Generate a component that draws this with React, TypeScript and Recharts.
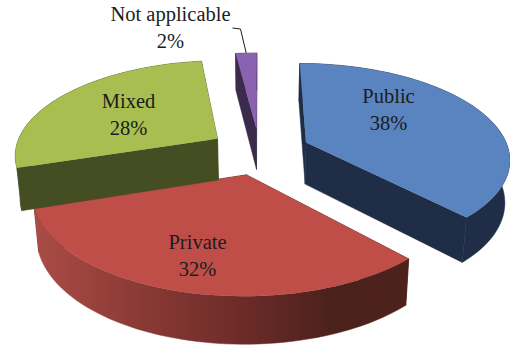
import React from 'react';
import { PieChart, Pie, Cell } from 'recharts';

const categories = ['Public', 'Private', 'Mixed', 'Not applicable'];
const shares = [38, 32, 28, 2];

const topColors = ['#5984C0', '#BF4E49', '#A9BE51', '#8A62B0'];
const sideColors = ['#1F2D47', 'url(#privateWall)', '#454D22', '#3A2A4C'];

// label centres relative to the pie centre, px
const labelOffsets = [
    [129, -42],
    [-62, 104],
    [-131, -37],
    [-89, -124],
];

const chartData = categories.map((name, i) => ({ name, value: shares[i] }));

const RAD = Math.PI / 180;
const TILT = 0.463; // vertical squash of the disc
const PERSPECTIVE = 0.158;
const EXPLODE = 0.25;
const DEPTH = 42;
const DEPTH_PERSPECTIVE = 0.1;
const BASE_SHRINK = 0.98;

type Pt = [number, number];

const toPath = (pts: Pt[]) =>
    'M' + pts.map(p => `${p[0].toFixed(1)},${p[1].toFixed(1)}`).join('L') + 'Z';

const makeProjection = (cx: number, cy: number, radius: number) => {
    return (u: number, v: number, base = false): Pt => {
        const d = 1 - PERSPECTIVE * v;
        const x = (radius * u) / d;
        const y = (radius * TILT * v) / d;
        if (!base) return [cx + x, cy + y];
        return [cx + x * BASE_SHRINK, cy + y + DEPTH / (1 - DEPTH_PERSPECTIVE * v)];
    };
};

// Draws one exploded wedge as a solid: cut faces, outer wall, then the top
const SolidWedge = (props: any) => {
    const { cx, cy, outerRadius, startAngle, endAngle, midAngle, fill, index } = props;
    const project = makeProjection(cx, cy, outerRadius);
    const ou = EXPLODE * Math.cos(midAngle * RAD);
    const ov = -EXPLODE * Math.sin(midAngle * RAD);

    const steps = Math.max(2, Math.ceil(Math.abs(endAngle - startAngle) / 2));
    const rim: [number, number][] = [];
    for (let i = 0; i <= steps; i++) {
        const a = (startAngle + ((endAngle - startAngle) * i) / steps) * RAD;
        rim.push([ou + Math.cos(a), ov - Math.sin(a)]);
    }
    const first = rim[0];
    const last = rim[rim.length - 1];

    const topFace = [project(ou, ov), ...rim.map(p => project(p[0], p[1]))];
    const wall = [
        ...rim.map(p => project(p[0], p[1])),
        ...rim.slice().reverse().map(p => project(p[0], p[1], true)),
    ];
    const cutA = [project(ou, ov), project(first[0], first[1]), project(first[0], first[1], true), project(ou, ov, true)];
    const cutB = [project(ou, ov), project(last[0], last[1]), project(last[0], last[1], true), project(ou, ov, true)];
    const side = sideColors[index];
    const cutColor = index === 1 ? '#4D221D' : side;

    return (
        <g>
            <defs>
                <linearGradient id="privateWall" gradientUnits="userSpaceOnUse" x1="35" y1="0" x2="405" y2="0">
                    <stop offset="0%" stopColor="#AB4C46" />
                    <stop offset="28%" stopColor="#8B3A35" />
                    <stop offset="55%" stopColor="#6E2C29" />
                    <stop offset="80%" stopColor="#4B211C" />
                    <stop offset="100%" stopColor="#4D221D" />
                </linearGradient>
            </defs>
            <path d={toPath(cutA)} fill={cutColor} stroke={cutColor} strokeWidth={0.5} />
            <path d={toPath(cutB)} fill={cutColor} stroke={cutColor} strokeWidth={0.5} />
            <path d={toPath(wall)} fill={side} stroke={side} strokeWidth={0.5} />
            <path d={toPath(topFace)} fill={fill} />
        </g>
    );
};

const renderLabel = (props: any) => {
    const { cx, cy, outerRadius, midAngle, name, value, index } = props;
    const [dx, dy] = labelOffsets[index];
    const x = cx + dx;
    const y = cy + dy;
    const textStyle = { fontFamily: '"Liberation Serif", serif', fontSize: 20.5, fill: '#1c1c1c' };

    // small leader for the thin slice
    let leader = null;
    if (name === 'Not applicable') {
        const project = makeProjection(cx, cy, outerRadius);
        const u = (EXPLODE + 1) * Math.cos(midAngle * RAD);
        const v = -(EXPLODE + 1) * Math.sin(midAngle * RAD);
        const tip = project(u, v);
        leader = (
            <path
                d={`M${x + 62},${y + 1}L${x + 70},${y + 2}L${tip[0]},${tip[1]}`}
                fill="none"
                stroke="#1c1c1c"
                strokeWidth={1}
            />
        );
    }

    return (
        <g>
            {leader}
            <text x={x} y={y - 6} textAnchor="middle" style={textStyle}>{name}</text>
            <text x={x} y={y + 21} textAnchor="middle" style={textStyle}>{value}%</text>
        </g>
    );
};

export default function App() {
    return (
        <div style={{ position: 'absolute', left: 0, top: 0, width: 510, height: 349, background: '#fff', overflow: 'hidden' }}>
            <PieChart width={510} height={349} margin={{ top: 0, right: 0, bottom: 0, left: 0 }}>
                <Pie
                    data={chartData}
                    dataKey="value"
                    nameKey="name"
                    cx={259.5}
                    cy={151}
                    outerRadius={203}
                    startAngle={90}
                    endAngle={-270}
                    stroke="none"
                    shape={SolidWedge}
                    label={renderLabel}
                    labelLine={false}
                    isAnimationActive={false}
                >
                    {chartData.map((entry, i) => (
                        <Cell key={entry.name} fill={topColors[i]} />
                    ))}
                </Pie>
            </PieChart>
        </div>
    );
}
